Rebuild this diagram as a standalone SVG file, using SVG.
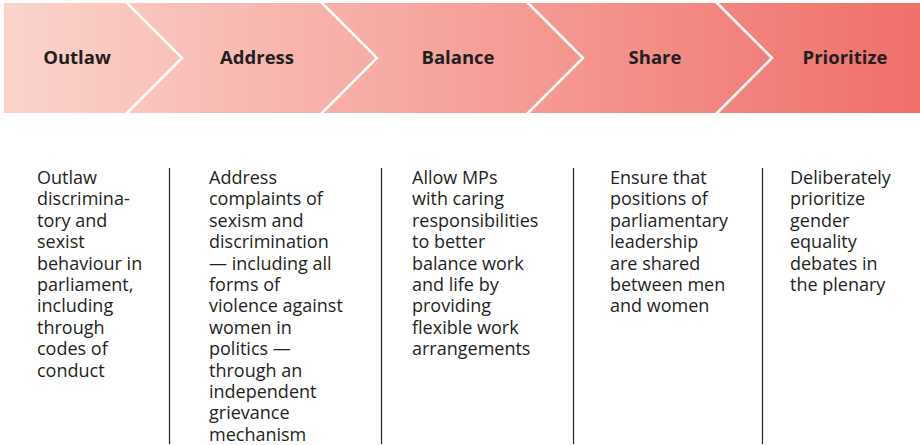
<svg xmlns="http://www.w3.org/2000/svg" width="920" height="445" viewBox="0 0 920 445">
<defs>
<linearGradient id="g" x1="4" y1="0" x2="920" y2="0" gradientUnits="userSpaceOnUse">
<stop offset="0" stop-color="#FBD4CC"/>
<stop offset="1" stop-color="#F0706A"/>
</linearGradient>
<style>
.t{font-family:"Open Sans","Liberation Sans",sans-serif;font-weight:700;font-size:18.5px;fill:#231f20;text-anchor:middle}
.b{font-family:"Open Sans","Liberation Sans",sans-serif;font-size:18px;fill:#231f20}
.c{stroke:#fff;stroke-width:2.5;fill:none}
.d{stroke:#231f20;stroke-width:1.2}
</style>
</defs>
<rect x="4" y="3" width="916" height="110" fill="url(#g)"/>
<g id="chevrons">
<polyline class="c" points="126,2 182,58 126,114"/>
<polyline class="c" points="321,2 377,58 321,114"/>
<polyline class="c" points="527,2 583,58 527,114"/>
<polyline class="c" points="716,2 772,58 716,114"/>
</g>
<g id="n1"><text class="t" x="77" y="64">Outlaw</text>
<text class="b" x="37" y="184"><tspan x="37">Outlaw</tspan><tspan x="37" dy="21.4">discrimina-</tspan><tspan x="37" dy="21.4">tory and</tspan><tspan x="37" dy="21.4">sexist</tspan><tspan x="37" dy="21.4">behaviour in</tspan><tspan x="37" dy="21.4">parliament,</tspan><tspan x="37" dy="21.4">including</tspan><tspan x="37" dy="21.4">through</tspan><tspan x="37" dy="21.4">codes of</tspan><tspan x="37" dy="21.4">conduct</tspan></text></g>
<g id="n2"><text class="t" x="257" y="64">Address</text>
<text class="b" x="209" y="184"><tspan x="209">Address</tspan><tspan x="209" dy="21.4">complaints of</tspan><tspan x="209" dy="21.4">sexism and</tspan><tspan x="209" dy="21.4">discrimination</tspan><tspan x="209" dy="21.4">— including all</tspan><tspan x="209" dy="21.4">forms of</tspan><tspan x="209" dy="21.4">violence against</tspan><tspan x="209" dy="21.4">women in</tspan><tspan x="209" dy="21.4">politics —</tspan><tspan x="209" dy="21.4">through an</tspan><tspan x="209" dy="21.4">independent</tspan><tspan x="209" dy="21.4">grievance</tspan><tspan x="209" dy="21.4">mechanism</tspan></text></g>
<g id="n3"><text class="t" x="458" y="64">Balance</text>
<text class="b" x="412" y="184"><tspan x="412">Allow MPs</tspan><tspan x="412" dy="21.4">with caring</tspan><tspan x="412" dy="21.4">responsibilities</tspan><tspan x="412" dy="21.4">to better</tspan><tspan x="412" dy="21.4">balance work</tspan><tspan x="412" dy="21.4">and life by</tspan><tspan x="412" dy="21.4">providing</tspan><tspan x="412" dy="21.4">flexible work</tspan><tspan x="412" dy="21.4">arrangements</tspan></text></g>
<g id="n4"><text class="t" x="655" y="64">Share</text>
<text class="b" x="610" y="184"><tspan x="610">Ensure that</tspan><tspan x="610" dy="21.4">positions of</tspan><tspan x="610" dy="21.4">parliamentary</tspan><tspan x="610" dy="21.4">leadership</tspan><tspan x="610" dy="21.4">are shared</tspan><tspan x="610" dy="21.4">between men</tspan><tspan x="610" dy="21.4">and women</tspan></text></g>
<g id="n5"><text class="t" x="845" y="64">Prioritize</text>
<text class="b" x="790" y="184"><tspan x="790">Deliberately</tspan><tspan x="790" dy="21.4">prioritize</tspan><tspan x="790" dy="21.4">gender</tspan><tspan x="790" dy="21.4">equality</tspan><tspan x="790" dy="21.4">debates in</tspan><tspan x="790" dy="21.4">the plenary</tspan></text></g>
<g id="dividers">
<line class="d" x1="169.5" y1="168" x2="169.5" y2="444"/>
<line class="d" x1="381.5" y1="168" x2="381.5" y2="444"/>
<line class="d" x1="573.5" y1="168" x2="573.5" y2="444"/>
<line class="d" x1="762.5" y1="168" x2="762.5" y2="444"/>
</g>
</svg>
